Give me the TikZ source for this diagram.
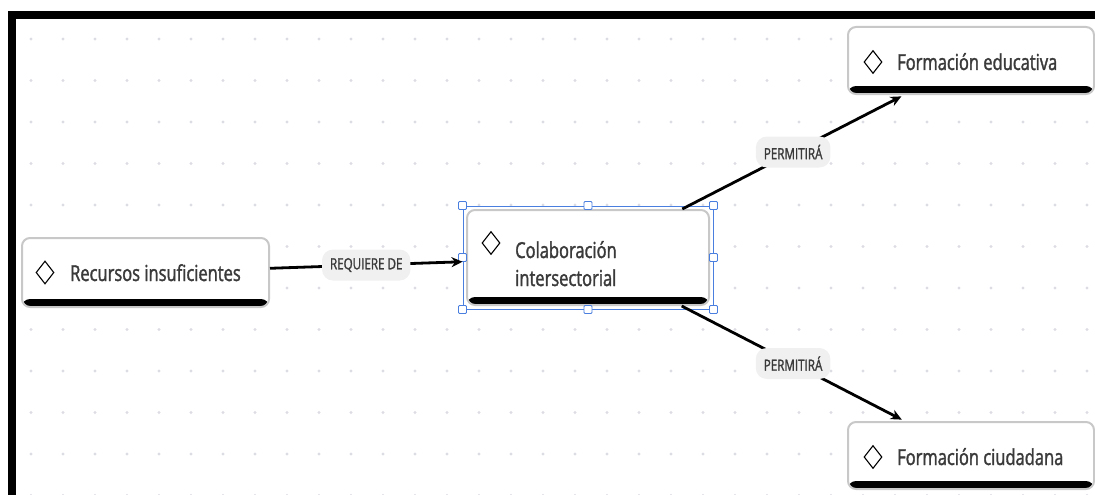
\documentclass[tikz,border=0pt]{standalone}
\usepackage{fontspec}
\setmainfont{Open Sans}[FakeStretch=0.75, FakeBold=1.5]
\usetikzlibrary{arrows.meta, positioning, shapes.geometric, fit}

\definecolor{dotgray}{HTML}{DCDCE4}
\definecolor{cardline}{HTML}{C8C8C8}
\definecolor{cardtext}{HTML}{3A3A3A}
\definecolor{selblue}{HTML}{4A7FE0}
\definecolor{pillgray}{HTML}{F0F0F0}

\tikzset{
    card/.style={draw=cardline, line width=2pt, fill=white, rounded corners=8pt, inner sep=0pt,
        path picture={\fill[black] (path picture bounding box.south west) rectangle ([yshift=8pt]path picture bounding box.south east);}},
    cardlabel/.style={font=\fontsize{22}{28}\selectfont, text=cardtext, inner sep=0pt},
    icon/.style={diamond, draw=black, line width=1.1pt, minimum width=18pt, minimum height=23pt, inner sep=0pt},
    link/.style={line width=2.8pt, -{Stealth[length=11pt, width=10pt]}},
    pill/.style={fill=pillgray, rounded corners=11pt, minimum height=31pt, inner xsep=8pt,
        font=\fontsize{15.5}{18}\selectfont, text=cardtext},
    selbox/.style={draw=selblue, line width=1pt, inner sep=3pt},
    handle/.style={draw=selblue, fill=white, line width=0.9pt, minimum size=8pt, inner sep=0pt, rounded corners=1pt}
}

\begin{document}
\begin{tikzpicture}[x=1pt, y=-1pt]
    \useasboundingbox (0,0) rectangle (1095,495);

    % dotted canvas
    \foreach \i in {0,...,33} {
        \foreach \j in {0,...,11} {
            \fill[dotgray] (31+32*\i, 39+41.5*\j) circle (1.6pt);
        }
    }

    % canvas frame (left and top only)
    \draw[line width=8pt] (12,495) -- (12,15) -- (1095,15);

    % concept cards
    \node[card, minimum width=247pt, minimum height=69pt] (recursos) at (145.5,272.5) {};
    \node[card, minimum width=242pt, minimum height=95pt] (colab) at (588,257.5) {};
    \node[card, minimum width=246pt, minimum height=67pt] (edu) at (971,60.5) {};
    \node[card, minimum width=246pt, minimum height=67pt] (ciud) at (971,455.5) {};

    % icons and titles
    \node[icon] (recursosicon) at (45,272.5) {};
    \node[cardlabel, anchor=base west] (recursostxt) at (70,281) {Recursos insuficientes};
    \node[icon] (colabicon) at (491,243) {};
    \node[cardlabel, anchor=base west, align=left] (colabtxt) at (515,286) {Colaboración\\intersectorial};
    \node[icon] (eduicon) at (873,62) {};
    \node[cardlabel, anchor=base west] (edutxt) at (897,70) {Formación educativa};
    \node[icon] (ciudicon) at (873,457) {};
    \node[cardlabel, anchor=base west] (ciudtxt) at (897,465) {Formación ciudadana};

    % selected card
    \node[selbox, fit=(colab)] (sel) {};
    \foreach \a/\n in {north west/nw, north/n, north east/ne, east/e, south east/se, south/s, south west/sw, west/w} {
        \node[handle] (handle-\n) at (sel.\a) {};
    }

    % relations
    \draw[link] (recursos) -- node[pill] (requiere) {REQUIERE DE} (sel);
    \draw[link, shorten >=3pt] (colab) -- node[pill] (permite1) {PERMITIRÁ} (edu);
    \draw[link, shorten >=3pt] (colab) -- node[pill] (permite2) {PERMITIRÁ} (ciud);
\end{tikzpicture}
\end{document}
